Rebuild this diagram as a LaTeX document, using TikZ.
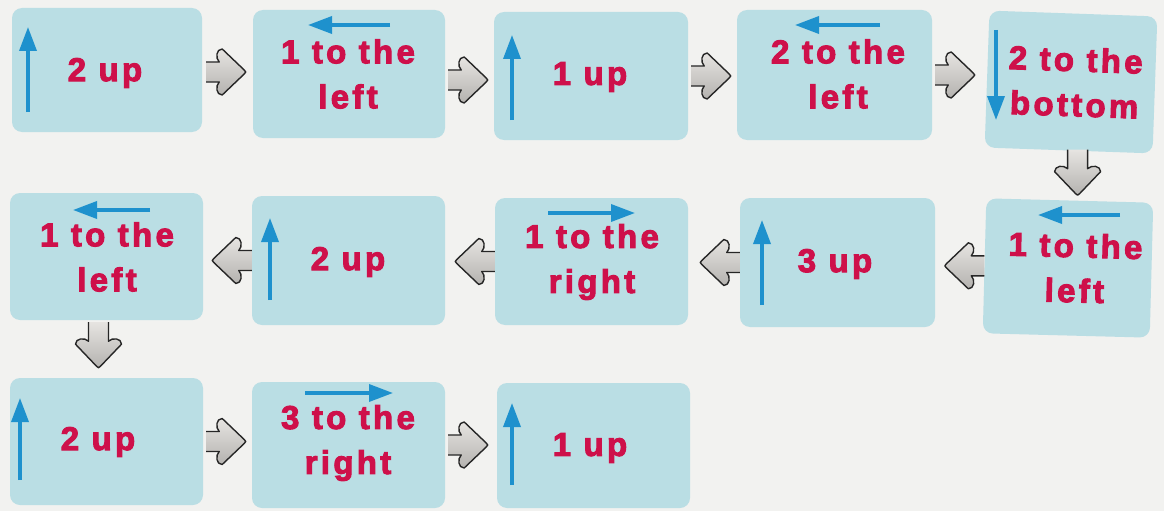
\documentclass[tikz,border=0pt]{standalone}
\usepackage{fontspec}
\setmainfont{Liberation Sans}
\newfontfamily\lblfont{Liberation Sans}[LetterSpace=10, BoldFeatures={FakeBold=3}]
\usetikzlibrary{arrows.meta,calc}
\definecolor{bg}{RGB}{242,242,240}
\definecolor{boxc}{RGB}{186,222,228}
\definecolor{txt}{RGB}{206,16,74}
\definecolor{blu}{RGB}{30,145,205}
\definecolor{gtop}{RGB}{230,228,225}
\definecolor{gbot}{RGB}{180,178,175}
\tikzset{
  box/.style={fill=boxc, rounded corners=10pt, inner sep=0pt},
  lbl/.style={text=txt, font=\lblfont\bfseries\fontsize{33}{45}\selectfont, align=center, inner sep=0pt},
  barrow/.style={draw=blu, line width=3.5pt, -{Triangle[length=24pt,width=17pt]}},
  garrowshape/.style={top color=gtop, bottom color=gbot, draw=black!85, line width=1.4pt, line join=round},
  garrow/.pic={
    \path[garrowshape]
      (0,-10) -- (13,-10) .. controls (9,-14) and (10,-23) .. (16,-23)
      -- (38,-2) .. controls (40,0) .. (38,2)
      -- (16,23) .. controls (10,23) and (9,14) .. (13,10) -- (0,10);
  },
  garrowlong/.pic={
    \path[garrowshape]
      (0,-10) -- (19,-10) .. controls (15,-14) and (16,-23) .. (22,-23)
      -- (44,-2) .. controls (46,0) .. (44,2)
      -- (22,23) .. controls (16,23) and (15,14) .. (19,10) -- (0,10);
  }
}
\begin{document}
\begin{tikzpicture}[x=1pt,y=-1pt]
\fill[bg] (0,0) rectangle (1164,511);
\useasboundingbox (0,0) rectangle (1164,511);
% boxes
\node[box, minimum width=190pt, minimum height=124pt] (b1) at (107,70) {};
\node[box, minimum width=192pt, minimum height=128pt] (b2) at (349,74) {};
\node[box, minimum width=194pt, minimum height=128pt] (b3) at (591,76) {};
\node[box, minimum width=195pt, minimum height=130pt] (b4) at (834.5,75) {};
\node[box, minimum width=168pt, minimum height=137pt, rotate=-2] (b5) at (1071,82) {};
\node[box, minimum width=193pt, minimum height=127pt] (b6) at (106.5,256.5) {};
\node[box, minimum width=193pt, minimum height=129pt] (b7) at (348.5,260.5) {};
\node[box, minimum width=193pt, minimum height=127pt] (b8) at (591.5,261.5) {};
\node[box, minimum width=195pt, minimum height=129pt] (b9) at (837.5,262.5) {};
\node[box, minimum width=167pt, minimum height=135pt, rotate=-1.5] (b10) at (1068,268) {};
\node[box, minimum width=193pt, minimum height=127pt] (b11) at (106.5,441.5) {};
\node[box, minimum width=193pt, minimum height=126pt] (b12) at (348.5,445) {};
\node[box, minimum width=193pt, minimum height=125pt] (b13) at (593.5,445.5) {};
% labels
\node[lbl] (t1) at (105,73) {2 up};
\node[lbl] (t2) at (348,74) {1 to the\\left};
\node[lbl] (t3) at (590,77) {1 up};
\node[lbl] (t4) at (838,74) {2 to the\\left};
\node[lbl, rotate=-2] (t5) at (1075,82) {2 to the\\bottom};
\node[lbl] (t6) at (107,257) {1 to the\\left};
\node[lbl] (t7) at (348,262) {2 up};
\node[lbl] (t8) at (592,262) {1 to the\\right};
\node[lbl] (t9) at (835,264) {3 up};
\node[lbl, rotate=-1.5] (t10) at (1075,268) {1 to the\\left};
\node[lbl] (t11) at (98,442) {2 up};
\node[lbl] (t12) at (348,443) {3 to the\\right};
\node[lbl] (t13) at (590,448) {1 up};
% blue direction arrows
\draw[barrow] (28,112) -- (28,27);
\draw[barrow] (390,25) -- (308,25);
\draw[barrow] (512,120) -- (512,35);
\draw[barrow] (880,25) -- (795,25);
\draw[barrow] (996,30) -- (996,120);
\draw[barrow] (150,210) -- (73,210);
\draw[barrow] (270,300) -- (270,218);
\draw[barrow] (548,213) -- (635,213);
\draw[barrow] (762,305) -- (762,220);
\draw[barrow] (1120,215) -- (1038,215);
\draw[barrow] (20,480) -- (20,398);
\draw[barrow] (305,393) -- (393,393);
\draw[barrow] (512,485) -- (512,403);
% gray flow arrows
\pic at ($(b1.east)+(4,2)$) {garrow};
\pic at ($(b2.east)+(3,6)$) {garrow};
\pic at ($(b3.east)+(3,0)$) {garrow};
\pic at ($(b4.east)+(3,0)$) {garrow};
\pic[rotate=-90] at ($(b5.south)+(9,-1)$) {garrowlong};
\pic[rotate=180] at ($(b10.west)+(0,0)$) {garrow};
\pic[rotate=180] at ($(b9.west)+(0,0)$) {garrow};
\pic[rotate=180] at ($(b8.west)+(0,0)$) {garrow};
\pic[rotate=180] at ($(b7.west)+(0,0)$) {garrow};
\pic[rotate=-90] at ($(b6.south)+(-8,2)$) {garrowlong};
\pic at ($(b11.east)+(3,0)$) {garrow};
\pic at ($(b12.east)+(3,0)$) {garrow};
\end{tikzpicture}
\end{document}
